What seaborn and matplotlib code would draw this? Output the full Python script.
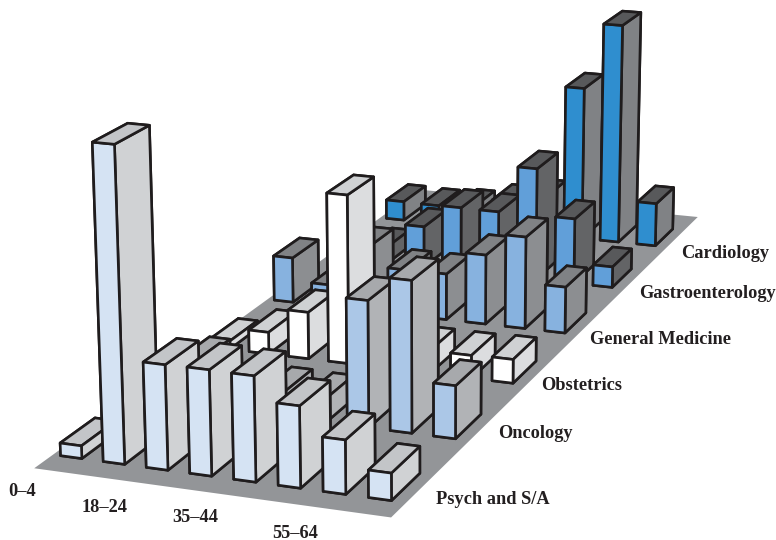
import matplotlib
matplotlib.use("Agg")
import matplotlib.pyplot as plt
from mpl_toolkits.mplot3d.art3d import Poly3DCollection
import seaborn as sns

sns.set_theme(style="white")

age_groups = ["0–4", "5–17", "18–24", "25–34", "35–44", "45–54", "55–64", "65+"]
departments = ["Psych and S/A", "Oncology", "Obstetrics", "General Medicine",
               "Gastroenterology", "Cardiology"]

psych = [9.5, 231.6, 77.6, 77.9, 77.5, 59.9, 39.5, 19.9]
oncology = [10.6, 34.9, 10.8, 18.8, 18.2, 96.6, 115.2, 40.2]
obstetrics = [6.4, 17.6, 37.6, 134.5, 16.9, 18.3, 18.2, 18.9]
general_medicine = [37.7, 18.2, 53.9, 38.0, 38.2, 57.5, 75.8, 38.0]
gastroenterology = [2.1, 14.4, 35.6, 55.6, 55.3, 95.7, 55.8, 17.7]
cardiology = [17.0, 16.5, 18.9, 26.7, 34.5, 134.7, 192.8, 37.9]
admissions = [psych, oncology, obstetrics, general_medicine, gastroenterology, cardiology]

front_colors = sns.color_palette(["#d5e3f3", "#abc7e7", "#ffffff", "#87b2df", "#619fd9", "#2f8ecf"])
top_colors = sns.color_palette(["#c3c5c8", "#a7a9ac", "#cfd1d3", "#808285", "#58595b", "#58595b"])
side_colors = sns.color_palette(["#d0d2d4", "#b1b3b6", "#dcdddf", "#8c8e91", "#636466", "#808285"])
floor_color = "#939598"
edge_color = "#1f1c1d"

W, H = 776, 540
fig = plt.figure(figsize=(W / 100, H / 100), dpi=100, facecolor="white")
ax = fig.add_subplot(projection="3d", computed_zorder=False)
n_ages, n_depts = len(age_groups), len(departments)
ax.set_xlim(0, n_ages)
ax.set_ylim(0, n_depts)
ax.set_zlim(0, 100)
ax.view_init(17.04, -69.36, 0.15)
ax.set_proj_type("persp", focal_length=0.555)
ax.set_box_aspect((n_ages, n_ages * 2.8928, 3))
ax.set_position([-110.0 / W, -244.2 / H, 1007.1 / W, 1007.1 / H])
ax.set_axis_off()

ax.add_collection3d(Poly3DCollection(
    [[(0, 0, 0), (n_ages, 0, 0), (n_ages, n_depts, 0), (0, n_depts, 0)]],
    facecolor=floor_color, edgecolor="none", zorder=0))

# Painter's order: back row first, left to right within a row.
order = 1
for j in reversed(range(n_depts)):
    for i in range(n_ages):
        faces = [top_colors[j], top_colors[j], front_colors[j], front_colors[j],
                 side_colors[j], side_colors[j]]
        ax.bar3d(i + 0.179, j + 0.224, 0, 0.5, 0.43, admissions[j][i],
                 color=faces, shade=False, edgecolor=edge_color,
                 linewidth=1.9, zorder=order)
        order += 1

label_font = dict(family="Liberation Serif", weight="bold", color="#231f20",
                  fontsize=13.2, ha="center", va="center")
age_label_xy = [(22, 491), (105, 508), (195, 517), (295, 533)]
for name, (px, py) in zip(age_groups[::2], age_label_xy):
    fig.text(px / W, 1 - py / H, name, **label_font)
dept_label_xy = [(493, 499), (535, 433), (582, 385), (660, 339), (707, 294), (725, 253)]
for name, (px, py) in zip(departments, dept_label_xy):
    fig.text(px / W, 1 - py / H, name, **label_font)

fig.savefig("out.png", dpi=100)
